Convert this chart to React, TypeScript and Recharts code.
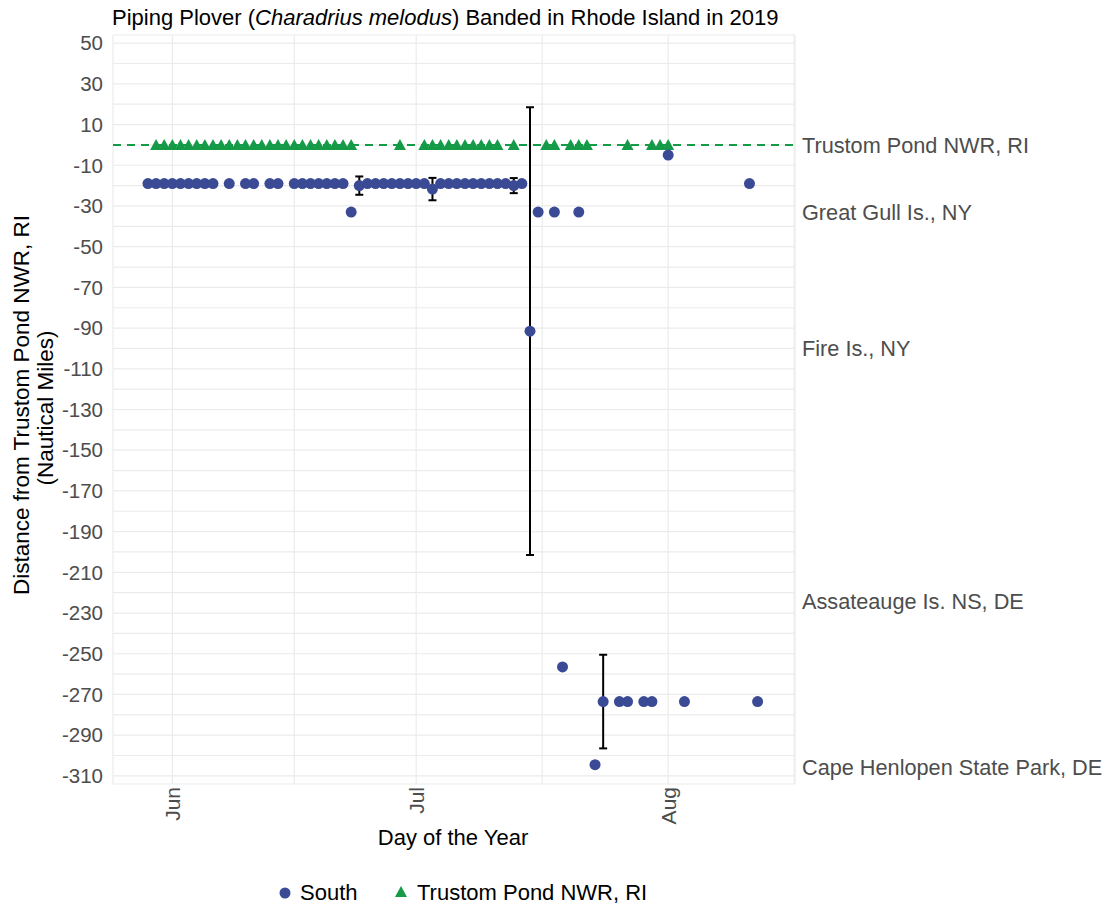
import React from "react";
import {
  ScatterChart,
  Scatter,
  XAxis,
  YAxis,
  CartesianGrid,
  ReferenceLine,
  ErrorBar,
} from "recharts";

// day of year 2019 (Jun 1 = 152), distance in nautical miles
const southDay = [
  149, 150, 151, 152, 153, 154, 155, 156, 157, 159, 161, 162, 164, 165,
  167, 168, 169, 170, 171, 172, 173, 174, 175, 176, 177, 178, 179, 180,
  181, 182, 183, 184, 185, 186, 187, 188, 189, 190, 191, 192, 193, 194,
  195, 196, 197, 199, 200, 202, 204, 205, 207, 208, 210, 211, 213, 215,
  223, 224,
];
const southDist = [
  -19, -19, -19, -19, -19, -19, -19, -19, -19, -19, -19, -19, -19, -19,
  -19, -19, -19, -19, -19, -19, -19, -33, -20, -19, -19, -19, -19, -19,
  -19, -19, -19, -21.7, -19, -19, -19, -19, -19, -19, -19, -19, -19, -20,
  -19, -91.5, -33, -33, -256.5, -33, -304.5, -273.5, -273.5, -273.5, -273.5, -273.5, -5, -273.5,
  -19, -273.5,
];

// days with more than one bird: mean and spread
const errDay = [175, 180, 181, 184, 194, 196, 205];
const errDist = [-20, -19, -19, -21.7, -20, -91.5, -273.5];
const errSize = [4.5, 0.2, 0.2, 5.5, 3.7, 110, 23];

const trustomDay = [
  150, 151, 152, 153, 154, 155, 156, 157, 158, 159, 160, 161, 162, 163,
  164, 165, 166, 167, 168, 169, 170, 171, 172, 173, 174, 180, 183, 184,
  185, 186, 187, 188, 189, 190, 191, 192, 194, 198, 199, 201, 202, 203,
  208, 211, 212, 213,
];

const monthTicks = [152, 167, 182, 197.5, 213, 228.5];
const monthLabels: Record<number, string> = { 152: "Jun", 182: "Jul", 213: "Aug" };

const yTicks = [
  50, 40, 30, 20, 10, 0, -10, -20, -30, -40, -50, -60, -70, -80, -90, -100,
  -110, -120, -130, -140, -150, -160, -170, -180, -190, -200, -210, -220,
  -230, -240, -250, -260, -270, -280, -290, -300, -310,
];
const yLabelled = [
  50, 30, 10, -10, -30, -50, -70, -90, -110, -130, -150, -170, -190, -210,
  -230, -250, -270, -290, -310,
];

const siteDist = [0, -33, -100, -224, -306];
const siteNames = [
  "Trustom Pond NWR, RI",
  "Great Gull Is., NY",
  "Fire Is., NY",
  "Assateauge Is. NS, DE",
  "Cape Henlopen State Park, DE",
];

const BLUE = "#3B4A95";
const GREEN = "#159A48";
const FONT = '"Liberation Sans", Arial, sans-serif';

const south = southDay.map((d, i) => ({ day: d, dist: southDist[i] }));
const trustom = trustomDay.map((d) => ({ day: d, dist: 0 }));
const errs = errDay.map((d, i) => ({ day: d, dist: errDist[i], err: errSize[i] }));

const Dot = (p: any) => <circle cx={p.cx} cy={p.cy} r={5.5} fill={BLUE} />;
const Tri = (p: any) => (
  <path
    d={`M${p.cx},${p.cy - 6} L${p.cx + 6},${p.cy + 5} L${p.cx - 6},${p.cy + 5} Z`}
    fill={GREEN}
  />
);
const Empty = () => <g />;

const MonthTick = (p: any) => {
  const label = monthLabels[p.payload.value];
  if (!label) return <g />;
  return (
    <text
      x={p.x}
      y={p.y}
      transform={`rotate(-90, ${p.x}, ${p.y})`}
      textAnchor="end"
      dominantBaseline="central"
      fill="#4D4D4D"
      fontSize={21}
      fontFamily={FONT}
    >
      {label}
    </text>
  );
};

const YTitle = () => (
  <g fontFamily={FONT} fontSize={22.5} fill="#000">
    <text x={21} y={405} transform="rotate(-90, 21, 405)" textAnchor="middle" dominantBaseline="central">
      Distance from Trustom Pond NWR, RI
    </text>
    <text x={45} y={408} transform="rotate(-90, 45, 408)" textAnchor="middle" dominantBaseline="central">
      (Nautical Miles)
    </text>
  </g>
);

export default function App() {
  return (
    <div style={{ position: "absolute", left: 0, top: 0, width: 1107, height: 907, background: "#fff", fontFamily: FONT }}>
      <div style={{ position: "absolute", left: 112, top: 6, fontSize: 22, lineHeight: "24px", color: "#000", whiteSpace: "nowrap" }}>
        Piping Plover (<i>Charadrius melodus</i>) Banded in Rhode Island in 2019
      </div>
      <ScatterChart width={1107} height={907} margin={{ top: 35, right: 0, bottom: 63, left: 0 }}>
        <CartesianGrid yAxisId="left" stroke="#EBEBEB" strokeWidth={1.2} />
        <XAxis
          dataKey="day"
          type="number"
          domain={[144.7, 228.6]}
          ticks={monthTicks}
          tick={<MonthTick />}
          axisLine={false}
          tickLine={false}
          tickSize={0}
          tickMargin={3}
          height={60}
          allowDataOverflow
        />
        <YAxis
          yAxisId="left"
          dataKey="dist"
          type="number"
          domain={[-314, 54]}
          ticks={yTicks}
          tickFormatter={(v: number) => (yLabelled.includes(v) ? String(v) : "")}
          tick={{ fill: "#4D4D4D", fontSize: 20.5, fontFamily: FONT }}
          axisLine={false}
          tickLine={false}
          tickSize={0}
          tickMargin={10}
          width={113}
          interval={0}
          allowDataOverflow
          label={{ content: () => <YTitle /> }}
        />
        <YAxis
          yAxisId="right"
          orientation="right"
          type="number"
          domain={[-314, 54]}
          ticks={siteDist}
          tickFormatter={(v: number) => siteNames[siteDist.indexOf(v)] ?? ""}
          tick={{ fill: "#4D4D4D", fontSize: 21.7, fontFamily: FONT, textAnchor: "start" }}
          axisLine={false}
          tickLine={false}
          tickSize={0}
          tickMargin={7}
          width={312}
          interval={0}
          allowDataOverflow
        />
        <ReferenceLine yAxisId="left" y={0} stroke={GREEN} strokeWidth={2} strokeDasharray="8 6" />
        <Scatter yAxisId="left" name="Trustom Pond NWR, RI" data={trustom} shape={<Tri />} isAnimationActive={false} />
        <Scatter yAxisId="left" name="South" data={south} shape={<Dot />} isAnimationActive={false} />
        <Scatter yAxisId="left" data={errs} shape={<Empty />} isAnimationActive={false}>
          <ErrorBar dataKey="err" direction="y" width={4} stroke="#000" strokeWidth={2} isAnimationActive={false} />
        </Scatter>
      </ScatterChart>
      <div style={{ position: "absolute", left: 0, top: 825, width: 906, textAlign: "center", fontSize: 22, color: "#000" }}>
        Day of the Year
      </div>
      <div style={{ position: "absolute", left: 0, top: 880, width: 1107, height: 28, fontSize: 22, color: "#000", whiteSpace: "nowrap" }}>
        <svg width={14} height={14} style={{ position: "absolute", left: 278, top: 6 }}>
          <circle cx={7} cy={7} r={5.5} fill={BLUE} />
        </svg>
        <span style={{ position: "absolute", left: 300, top: 0 }}>South</span>
        <svg width={14} height={14} style={{ position: "absolute", left: 394, top: 5 }}>
          <path d="M7,1 L13,12 L1,12 Z" fill={GREEN} />
        </svg>
        <span style={{ position: "absolute", left: 417, top: 0 }}>Trustom Pond NWR, RI</span>
      </div>
    </div>
  );
}
